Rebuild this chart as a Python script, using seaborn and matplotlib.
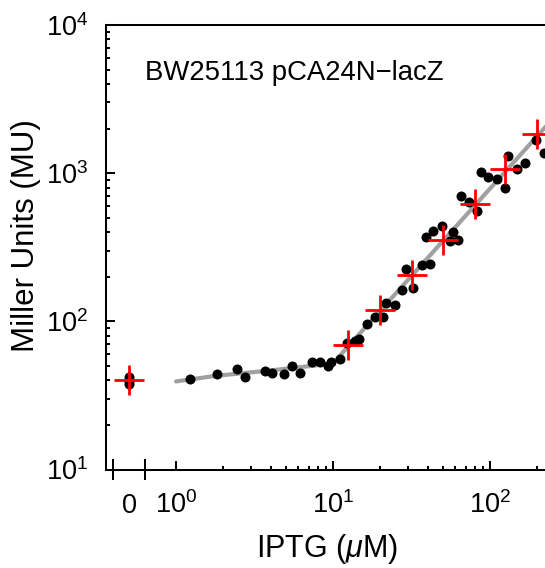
import numpy as np
import pandas as pd
import matplotlib
matplotlib.use("Agg")
import matplotlib.pyplot as plt
import seaborn as sns
from matplotlib.ticker import FixedLocator, FixedFormatter, NullFormatter

# Replicate measurements: IPTG concentration (uM) and beta-galactosidase activity (Miller units)
dot_iptg = [0, 0, 0,
            1.23, 1.83, 2.44, 2.75, 3.67, 4.11, 4.87, 5.51, 6.16, 7.32,
            8.26, 9.30, 9.75, 11.0, 12.3, 13.8, 14.7, 16.5, 18.5, 20.7,
            21.8, 24.7, 27.7, 29.2, 32.5, 36.9, 41.7, 39.1, 43.5, 49.2,
            55.6, 58.4, 62.8, 65.3, 74.0, 83.2, 87.6, 97.8, 110, 125,
            131, 148, 167, 197, 222]
dot_mu = [42.0, 39.5, 37.5,
          40.7, 43.9, 47.6, 42.3, 46.2, 44.6, 44.3, 49.9, 45.0, 53.2,
          53.2, 49.9, 53.2, 56.0, 71.1, 74.0, 76.0, 95.5, 107, 107,
          134, 128, 164, 224, 167, 239, 244, 371, 409, 438,
          351, 403, 355, 696, 641, 555, 1023, 935, 913, 791,
          1313, 1067, 1165, 1674, 1374]

# Mean activity at each induction level
mean_iptg = [0, 12.5, 20, 32, 50, 80, 125, 200]
mean_mu = [40, 69, 119, 205, 354, 619, 1067, 1837]

# Fitted response curve
fit_iptg = [1.0, 1.77, 3.97, 7.14, 9.16, 10.45, 11.9, 230]
fit_mu = [39.3, 42.8, 46.6, 49.9, 51.5, 54.8, 64.0, 2100]

xtick_labels = ["0", r"$10^{0}$", r"$10^{1}$", r"$10^{2}$"]
ytick_labels = [r"$10^{1}$", r"$10^{2}$", r"$10^{3}$", r"$10^{4}$"]

# Uninduced samples sit on a separate stretch left of the log axis
ZERO_POS = 0.502
BREAK_MARKS = [0.397, 0.635]

sns.set_style("ticks")
plt.rcParams["font.family"] = ["Liberation Sans", "DejaVu Sans"]
plt.rcParams["mathtext.fontset"] = "custom"
plt.rcParams["mathtext.rm"] = "Liberation Sans"
plt.rcParams["mathtext.it"] = "Liberation Sans:italic"
plt.rcParams["mathtext.bf"] = "Liberation Sans:bold"
for key in ("text.color", "axes.labelcolor", "xtick.color", "ytick.color",
            "axes.edgecolor"):
    plt.rcParams[key] = "black"

def place_zero(x):
    x = np.asarray(x, dtype=float)
    return np.where(x == 0, ZERO_POS, x)

dots = pd.DataFrame({"iptg": place_zero(dot_iptg), "mu": dot_mu})
means = pd.DataFrame({"iptg": place_zero(mean_iptg), "mu": mean_mu})
fit = pd.DataFrame({"iptg": fit_iptg, "mu": fit_mu})

fig = plt.figure(figsize=(5.45, 5.68), dpi=100)
ax = fig.add_axes([106 / 545, 98.5 / 568, 439 / 545, 444.5 / 568])
ax.set_xscale("log")
ax.set_yscale("log")

sns.lineplot(data=fit, x="iptg", y="mu", sort=False, estimator=None,
             color="#a0a0a0", linewidth=3.0, ax=ax, zorder=1)
sns.scatterplot(data=dots, x="iptg", y="mu", color="black", s=52,
                linewidth=0, ax=ax, zorder=2)
sns.scatterplot(data=means, x="iptg", y="mu", color="red", marker="+",
                s=480, linewidth=2.0, ax=ax, zorder=3)

ax.set_xlim(0.358, 224)
ax.set_ylim(10, 1e4)

# x axis: "0" stretch, break marks, then decades
ax.xaxis.set_major_locator(FixedLocator([ZERO_POS, 1, 10, 100]))
ax.xaxis.set_major_formatter(FixedFormatter(xtick_labels))
ax.xaxis.set_minor_locator(FixedLocator(
    [m * d for d in (1, 10) for m in range(2, 10)] + [200]))
ax.xaxis.set_minor_formatter(NullFormatter())

ax.yaxis.set_major_locator(FixedLocator([10, 100, 1000, 10000]))
ax.yaxis.set_major_formatter(FixedFormatter(ytick_labels))
ax.yaxis.set_minor_locator(FixedLocator(
    [m * d for d in (10, 100, 1000) for m in range(2, 10)]))
ax.yaxis.set_minor_formatter(NullFormatter())

ax.tick_params(which="both", direction="in", width=1.45, top=False, right=False,
               colors="black")
ax.tick_params(which="major", length=6.3, labelsize=19.5)
ax.tick_params(which="minor", length=3.2)
ax.tick_params(axis="x", which="major", pad=31)
ax.tick_params(axis="y", which="major", pad=13)

ax.xaxis.get_major_ticks()[0].tick1line.set_visible(False)
for lbl in ax.get_xticklabels():
    lbl.set_verticalalignment("baseline")

ax.vlines(BREAK_MARKS, -0.024, 0.024, transform=ax.get_xaxis_transform(),
          colors="black", linewidth=1.45, clip_on=False, zorder=5)

for side in ("left", "bottom", "top"):
    ax.spines[side].set_linewidth(1.45)
    ax.spines[side].set_color("black")
ax.spines["right"].set_visible(False)

ax.set_xlabel(r"IPTG ($\mu$M)", fontsize=22)
ax.set_ylabel("Miller Units (MU)", fontsize=22.5)
ax.xaxis.set_label_coords(0.503, -0.14)
ax.yaxis.set_label_coords(-0.147, 0.526)

ax.text(0.089, 0.876, "BW25113 pCA24N\u2212lacZ", transform=ax.transAxes,
        fontsize=19.8, va="baseline", ha="left")

fig.savefig("out.png", dpi=100)
